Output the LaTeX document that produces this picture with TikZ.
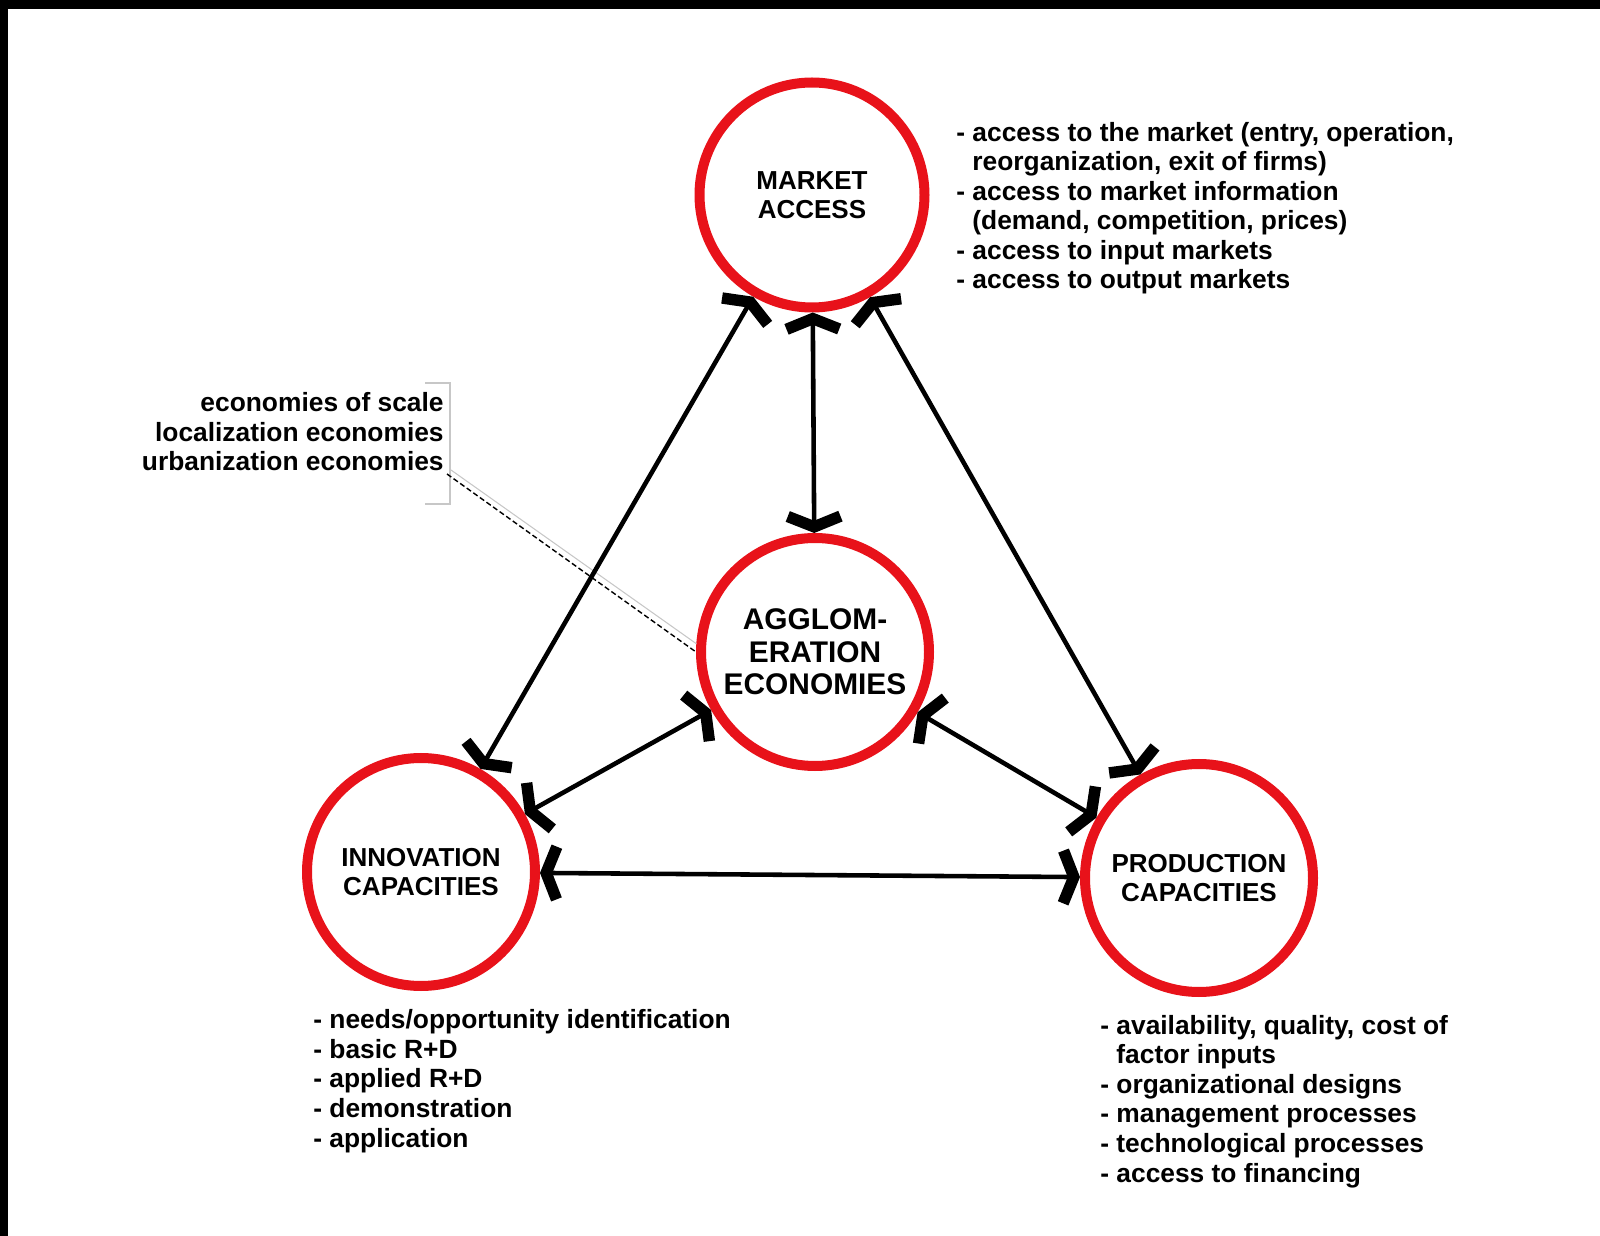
\documentclass[tikz,border=0pt]{standalone}
\usepackage{fontspec}
\setmainfont{Liberation Sans}
\usepackage{tikz}
\usetikzlibrary{arrows.meta,calc}
\definecolor{ringred}{RGB}{232,18,26}
\tikzstyle{hub} = [circle, draw=ringred, line width=0.2cm, minimum size=4.56cm, inner sep=0pt, align=center, font=\bfseries\fontsize{14.8}{16.8}\selectfont]
\tikzstyle{note} = [inner sep=0pt, font=\bfseries\fontsize{15}{16.8}\selectfont]
\tikzstyle{link} = [draw, line width=2.6pt, >={Straight Barb[sharp, length=6pt, width=30pt, line width=6.5pt]}, <->]
\tikzstyle{brace} = [draw, black!22, line width=0.6pt]
\tikzstyle{leader} = [draw, dash pattern=on 3pt off 1.6pt, line width=0.8pt]

\begin{document}
\begin{tikzpicture}
      \useasboundingbox (0, 0) rectangle (32, -24.72);
      \fill (0, 0) rectangle (32, -0.18);
      \fill (0, 0) rectangle (0.16, -24.72);
      \node [hub, minimum size=4.5cm] at (16.24, -3.9) (c1) {MARKET\\ACCESS};
      \node [hub, font=\bfseries\fontsize{17}{18.6}\selectfont] at (16.3, -13.04) (c2) {AGGLOM-\\ERATION\\ECONOMIES};
      \node [hub] at (8.42, -17.44) (c3) {INNOVATION\\CAPACITIES};
      \node [hub] at (23.98, -17.56) (c4) {PRODUCTION\\CAPACITIES};
      % lists, anchored at the baseline of their last line
      \node [note, align=left, anchor=base west] at (19.12, -5.78) (l1) {- access to the market (entry, operation,\\
        \phantom{- }reorganization, exit of firms)\\
        - access to market information\\
        \phantom{- }(demand, competition, prices)\\
        - access to input markets\\
        - access to output markets};
      \node [note, align=left, anchor=base west] at (6.26, -22.94) (l3) {- needs/opportunity identification\\
        - basic R+D\\
        - applied R+D\\
        - demonstration\\
        - application};
      \node [note, align=left, anchor=base west] at (22.0, -23.64) (l4) {- availability, quality, cost of\\
        \phantom{- }factor inputs\\
        - organizational designs\\
        - management processes\\
        - technological processes\\
        - access to financing};
      \node [note, align=right, anchor=base east] at (8.88, -9.42) (l0) {economies of scale\\
        localization economies\\
        urbanization economies};
      \coordinate (b1) at (8.5, -7.66);
      \coordinate (b2) at (9.0, -10.08);
      \coordinate (b3) at (9.02, -9.4);
      \path [brace] (b1) -| (b2) -- +(-0.5, 0);
      \path [brace] (b3) -- (c2.176);
      \path [leader] ($(l0.base east) + (0.06, -0.06)$) -- (c2.west);
      \path [link] (c1) -- (c2);
      \path [link] (c1) -- (c3);
      \path [link] (c1) -- (c4);
      \path [link] (c2) -- (c3);
      \path [link] (c2) -- (c4);
      \path [link] (c3) -- (c4);
\end{tikzpicture}
\end{document}
